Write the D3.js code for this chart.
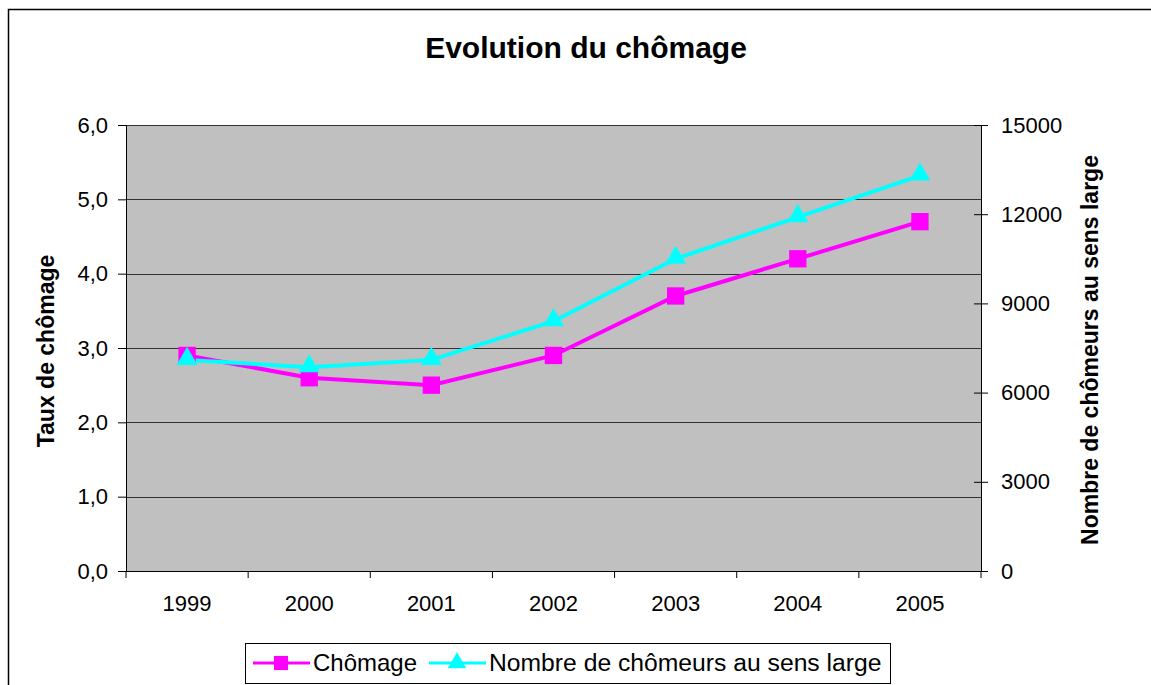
<!DOCTYPE html>
<html>
<head>
<meta charset="utf-8">
<title>Evolution du chômage</title>
<script src="https://d3js.org/d3.v7.min.js"></script>
<style>
  body { margin: 0; background: #fff; }
  svg { display: block; font-family: Arial, "Liberation Sans", sans-serif; }
  .axis text { font-size: 22px; fill: #000; font-family: Arial, "Liberation Sans", sans-serif; }
  .axis path, .axis line { stroke: #000; }
</style>
</head>
<body>
<div id="chart"></div>
<script>
// data
var years = ["1999", "2000", "2001", "2002", "2003", "2004", "2005"];
var chomage = [2.9, 2.6, 2.5, 2.9, 3.7, 4.2, 4.7];
var chomeurs = [7100, 6850, 7100, 8400, 10500, 11900, 13300];
var leftTicks = [0, 1, 2, 3, 4, 5, 6];
var rightTicks = [0, 3000, 6000, 9000, 12000, 15000];

var width = 1151, height = 685;
var plot = { left: 126, top: 125, right: 981, bottom: 571 };

var svg = d3.select("#chart").append("svg")
    .attr("width", width)
    .attr("height", height);

// outer frame (runs off the picture on the right and bottom)
svg.append("path")
    .attr("d", "M8.5," + height + "V9.5H" + width)
    .attr("fill", "none")
    .attr("stroke", "#000")
    .attr("stroke-width", 1.5);

var x = d3.scaleBand().domain(years).range([plot.left, plot.right]);
var yL = d3.scaleLinear().domain([0, 6]).range([plot.bottom, plot.top]);
var yR = d3.scaleLinear().domain([0, 15000]).range([plot.bottom, plot.top]);

// plot background
svg.append("rect")
    .attr("x", plot.left).attr("y", plot.top)
    .attr("width", plot.right - plot.left)
    .attr("height", plot.bottom - plot.top)
    .attr("fill", "#c0c0c0");

// gridlines
svg.append("g").selectAll("line")
    .data(leftTicks.slice(1))
    .enter().append("line")
    .attr("x1", plot.left).attr("x2", plot.right)
    .attr("y1", function(d) { return Math.round(yL(d)) + 0.5; })
    .attr("y2", function(d) { return Math.round(yL(d)) + 0.5; })
    .attr("stroke", "#333")
    .attr("stroke-width", 1);

// left axis
var gl = svg.append("g").attr("class", "axis")
    .attr("transform", "translate(" + plot.left + ",0)")
    .call(d3.axisLeft(yL).tickValues(leftTicks).tickSize(8).tickPadding(10)
        .tickFormat(function(d) { return d3.format(".1f")(d).replace(".", ","); }));
gl.select(".domain").attr("d", "M0.5," + plot.top + "V" + plot.bottom);

// right axis
var gr = svg.append("g").attr("class", "axis")
    .attr("transform", "translate(" + plot.right + ",0)")
    .call(d3.axisRight(yR).tickValues(rightTicks).tickSize(7).tickPadding(13).tickFormat(d3.format("d")));
gr.select(".domain").attr("d", "M0.5," + plot.top + "V" + plot.bottom);
gr.selectAll(".tick line").attr("x1", -7);

// bottom axis with ticks between categories
var gb = svg.append("g").attr("class", "axis")
    .attr("transform", "translate(0," + plot.bottom + ")")
    .call(d3.axisBottom(x).tickSize(0).tickPadding(24));
gb.select(".domain").attr("d", "M" + plot.left + ",0.5H" + plot.right);
gb.selectAll(".tick text").attr("dy", "0.71em");
svg.append("g").selectAll("line")
    .data(d3.range(years.length + 1))
    .enter().append("line")
    .attr("x1", function(i) { return plot.left + i * x.step(); })
    .attr("x2", function(i) { return plot.left + i * x.step(); })
    .attr("y1", plot.bottom).attr("y2", plot.bottom + 7)
    .attr("stroke", "#000");

// lines
var cx = function(d, i) { return x(years[i]) + x.bandwidth() / 2; };

svg.append("path")
    .datum(chomage)
    .attr("fill", "none")
    .attr("stroke", "#ff00ff")
    .attr("stroke-width", 4)
    .attr("d", d3.line().x(cx).y(function(d) { return yL(d); }));

svg.append("path")
    .datum(chomeurs)
    .attr("fill", "none")
    .attr("stroke", "#00ffff")
    .attr("stroke-width", 4)
    .attr("d", d3.line().x(cx).y(function(d) { return yR(d); }));

var sq = d3.symbol().type(d3.symbolSquare).size(300);
var tri = d3.symbol().type(d3.symbolTriangle).size(190);

svg.append("g").selectAll("path")
    .data(chomage)
    .enter().append("path")
    .attr("d", sq)
    .attr("fill", "#ff00ff")
    .attr("transform", function(d, i) { return "translate(" + cx(d, i) + "," + yL(d) + ")"; });

svg.append("g").selectAll("path")
    .data(chomeurs)
    .enter().append("path")
    .attr("d", tri)
    .attr("fill", "#00ffff")
    .attr("transform", function(d, i) { return "translate(" + cx(d, i) + "," + (yR(d) - 1) + ")"; });

// title and axis labels
svg.append("text")
    .attr("x", 586).attr("y", 58)
    .attr("text-anchor", "middle")
    .style("font-size", "30px").style("font-weight", "bold")
    .text("Evolution du chômage");

svg.append("text")
    .attr("transform", "translate(54," + ((plot.top + plot.bottom) / 2 + 3) + ") rotate(-90)")
    .attr("text-anchor", "middle")
    .style("font-size", "23px").style("font-weight", "bold")
    .text("Taux de chômage");

svg.append("text")
    .attr("transform", "translate(1098," + ((plot.top + plot.bottom) / 2 + 2) + ") rotate(-90)")
    .attr("text-anchor", "middle")
    .style("font-size", "23px").style("font-weight", "bold")
    .text("Nombre de chômeurs au sens large");

// legend
var lg = svg.append("g");
lg.append("rect")
    .attr("x", 245.5).attr("y", 643.5)
    .attr("width", 645).attr("height", 40)
    .attr("fill", "#fff").attr("stroke", "#000");

var legendItems = [
    { name: "Chômage", color: "#ff00ff", sym: d3.symbol().type(d3.symbolSquare).size(200), x: 253, size: 24 },
    { name: "Nombre de chômeurs au sens large", color: "#00ffff", sym: d3.symbol().type(d3.symbolTriangle).size(150), x: 429, size: 24.7 }
];
legendItems.forEach(function(it) {
    lg.append("line")
        .attr("x1", it.x).attr("x2", it.x + 57)
        .attr("y1", 663).attr("y2", 663)
        .attr("stroke", it.color).attr("stroke-width", 3);
    lg.append("path")
        .attr("d", it.sym)
        .attr("fill", it.color)
        .attr("transform", "translate(" + (it.x + 28) + ",663)");
    lg.append("text")
        .attr("x", it.x + 60).attr("y", 671)
        .style("font-size", it.size + "px")
        .text(it.name);
});
</script>
</body>
</html>
